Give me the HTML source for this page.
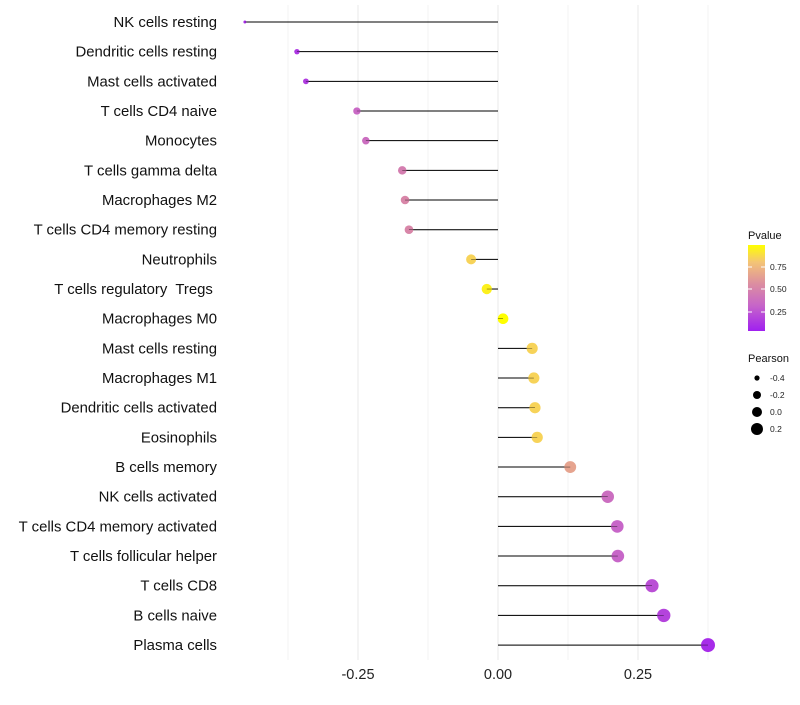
<!DOCTYPE html>
<html><head><meta charset="utf-8"><style>
body{margin:0;background:#fff;font-family:"Liberation Sans",sans-serif}
</style></head><body>
<svg id="c" width="800" height="700" xmlns="http://www.w3.org/2000/svg">
<defs><linearGradient id="pg" x1="0" y1="1" x2="0" y2="0">
<stop offset="0" stop-color="#a020f0"/><stop offset="0.3" stop-color="#c766c8"/><stop offset="0.55" stop-color="#dc8ea0"/><stop offset="0.8" stop-color="#f4c476"/><stop offset="1" stop-color="#ffff00"/></linearGradient></defs>
</svg>
<script>
const categories=["NK cells resting","Dendritic cells resting","Mast cells activated","T cells CD4 naive","Monocytes","T cells gamma delta","Macrophages M2","T cells CD4 memory resting","Neutrophils","T cells regulatory\u00a0 Tregs\u00a0","Macrophages M0","Mast cells resting","Macrophages M1","Dendritic cells activated","Eosinophils","B cells memory","NK cells activated","T cells CD4 memory activated","T cells follicular helper","T cells CD8","B cells naive","Plasma cells"];
const pearson=[-0.452,-0.359,-0.343,-0.252,-0.236,-0.171,-0.166,-0.159,-0.048,-0.020,0.009,0.061,0.064,0.066,0.070,0.129,0.196,0.213,0.214,0.275,0.296,0.375];
const pvalue=[0.05,0.1,0.12,0.32,0.35,0.45,0.5,0.5,0.85,0.95,1.0,0.85,0.85,0.85,0.85,0.65,0.35,0.3,0.3,0.2,0.15,0.05];
const xTicks=[-0.25,0,0.25];
const xTickLabels=["-0.25","0.00","0.25"];
const NS="http://www.w3.org/2000/svg",svg=document.getElementById('c');
const X=v=>498+v*560, Y=i=>22+i*29.67;
function mk(t,a,p){const e=document.createElementNS(NS,t);for(const k in a)e.setAttribute(k,a[k]);(p||svg).appendChild(e);return e;}
const stops=[[0,[160,32,240]],[0.3,[199,102,200]],[0.55,[220,142,160]],[0.8,[244,196,118]],[1,[255,255,0]]];
function col(p){for(let i=1;i<stops.length;i++){if(p<=stops[i][0]){const a=stops[i-1],b=stops[i],t=(p-a[0])/(b[0]-a[0]);return 'rgb('+a[1].map((c,j)=>Math.round(c+(b[1][j]-c)*t)).join(',')+')';}}return 'rgb(255,255,0)';}
const R=v=>Math.sqrt(Math.max(1,2.25+(v+0.45)*56.7));
for(let g=-0.375;g<=0.376;g+=0.125){const l=mk('line',{x1:X(g),x2:X(g),y1:5,y2:660,stroke:'#ebebeb','stroke-width':Math.abs(g*8)%2===1?0.6:1.1});

}
xTicks.forEach((v,i)=>{const t=mk('text',{x:X(v),y:679,'text-anchor':'middle','font-size':14.5,fill:'#222'});t.textContent=xTickLabels[i];

});
categories.forEach((c,i)=>{const y=Y(i);
const t=mk('text',{x:217,y:y+5,'text-anchor':'end','font-size':14.9,fill:'#111'});t.textContent=c;


const s=mk('line',{x1:X(0),x2:X(pearson[i]),y1:y,y2:y,stroke:'#000','stroke-width':1});


const d=mk('circle',{cx:X(pearson[i]),cy:y,r:R(pearson[i]),fill:col(pvalue[i])});


const s2=mk('line',{x1:X(0),x2:X(pearson[i]),y1:y,y2:y,stroke:'#000','stroke-width':0.6,'stroke-opacity':0.6});

});
const lg=mk('g',{});


let t=mk('text',{x:748,y:239,'font-size':11,fill:'#111'},lg);t.textContent='Pvalue';
mk('rect',{x:748,y:245,width:17,height:86,fill:'url(#pg)'},lg);
[[0.75,267],[0.5,289],[0.25,312]].forEach(([v,y])=>{mk('line',{x1:748,x2:752,y1:y,y2:y,stroke:'#fff'},lg);mk('line',{x1:761,x2:765,y1:y,y2:y,stroke:'#fff'},lg);
const tt=mk('text',{x:770,y:y+3,'font-size':8.5,fill:'#222'},lg);tt.textContent=v.toFixed(2);});
const sg=mk('g',{});


t=mk('text',{x:748,y:362,'font-size':11,fill:'#111'},sg);t.textContent='Pearson';
[[-0.4,378,2.6],[-0.2,395,4],[0,412,5],[0.2,429,6]].forEach(([v,y,r])=>{mk('circle',{cx:757,cy:y,r:r,fill:'#000'},sg);
const tt=mk('text',{x:770,y:y+3,'font-size':8.5,fill:'#222'},sg);tt.textContent=v.toFixed(1);});
</script>
</body></html>
